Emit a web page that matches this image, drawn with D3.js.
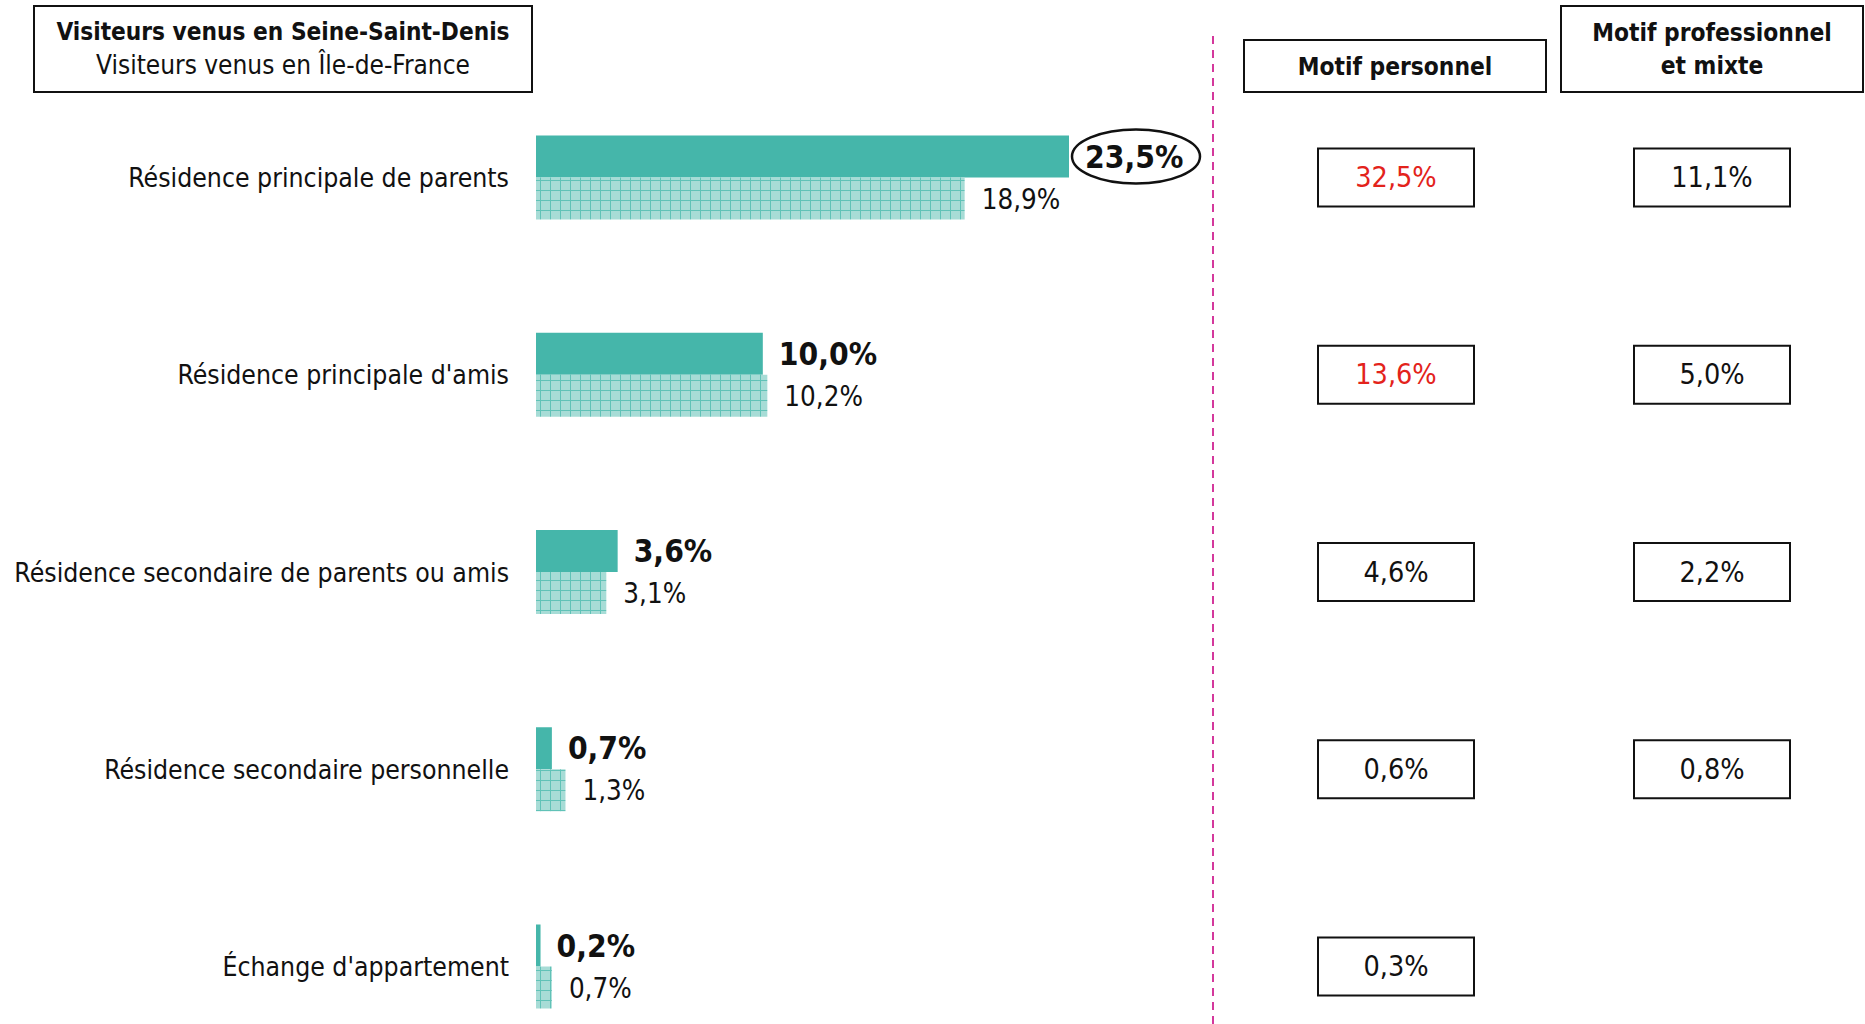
<!DOCTYPE html>
<html>
<head>
<meta charset="utf-8">
<script src="https://cdn.jsdelivr.net/npm/d3@7"></script>
<style>
    body { margin: 0; background: #fff; }
    svg text { font-family: "DejaVu Sans Condensed", "Liberation Sans Narrow", Roboto, sans-serif; fill: #111; }
</style>
</head>
<body>
<script>
// categories and values (percentages)
var categories = [
    "Résidence principale de parents",
    "Résidence principale d'amis",
    "Résidence secondaire de parents ou amis",
    "Résidence secondaire personnelle",
    "Échange d'appartement"
];
var seineSaintDenis = [23.5, 10.0, 3.6, 0.7, 0.2];
var ileDeFrance = [18.9, 10.2, 3.1, 1.3, 0.7];
var motifPersonnel = [32.5, 13.6, 4.6, 0.6, 0.3];
var motifPro = [11.1, 5.0, 2.2, 0.8, null];
var persoHighlight = [true, true, false, false, false];

var width = 1865, height = 1024;
var teal = "#45b6aa", tealLight = "#a7dcd6", tealGrid = "#60c2b7";
var red = "#e3231b", pink = "#d4389c";

var fr = d3.formatLocale({decimal: ",", thousands: " ", grouping: [3],
    currency: ["", " €"]});
var fmt = function(v) { return fr.format(".1f")(v) + "%"; };

var svg = d3.select("body")
    .append("svg")
    .attr("width", width)
    .attr("height", height);

// hatched pattern for Île-de-France bars
var defs = svg.append("defs");
var pat = defs.append("pattern")
    .attr("id", "grid")
    .attr("patternUnits", "userSpaceOnUse")
    .attr("width", 10)
    .attr("height", 10);
pat.append("rect").attr("width", 10).attr("height", 10).attr("fill", tealLight);
pat.append("path")
    .attr("d", "M0,0.5H10M0.5,0V10")
    .attr("stroke", tealGrid)
    .attr("stroke-width", 1);

var x = d3.scaleLinear().domain([0, 23.5]).range([536, 1069]);
var y = d3.scalePoint().domain(categories).range([177.5, 966.5]);
var barH = 42;

var colPerso = 1396, colPro = 1712;

// legend box
svg.append("rect")
    .attr("x", 34).attr("y", 6).attr("width", 498).attr("height", 86)
    .attr("fill", "none").attr("stroke", "#111").attr("stroke-width", 2);
svg.append("text")
    .attr("x", 283).attr("y", 32)
    .attr("text-anchor", "middle").attr("dominant-baseline", "central")
    .style("font-size", "24.2px").style("font-weight", "bold")
    .text("Visiteurs venus en Seine-Saint-Denis");
svg.append("text")
    .attr("x", 283).attr("y", 65)
    .attr("text-anchor", "middle").attr("dominant-baseline", "central")
    .style("font-size", "26px")
    .text("Visiteurs venus en Île-de-France");

// column headers
svg.append("rect")
    .attr("x", 1244).attr("y", 40).attr("width", 302).attr("height", 52)
    .attr("fill", "none").attr("stroke", "#111").attr("stroke-width", 2);
svg.append("text")
    .attr("x", 1395).attr("y", 66)
    .attr("text-anchor", "middle").attr("dominant-baseline", "central")
    .style("font-size", "24.3px").style("font-weight", "bold")
    .text("Motif personnel");
svg.append("rect")
    .attr("x", 1561).attr("y", 6).attr("width", 302).attr("height", 86)
    .attr("fill", "none").attr("stroke", "#111").attr("stroke-width", 2);
svg.append("text")
    .attr("x", 1712).attr("y", 32)
    .attr("text-anchor", "middle").attr("dominant-baseline", "central")
    .style("font-size", "24.3px").style("font-weight", "bold")
    .text("Motif professionnel");
svg.append("text")
    .attr("x", 1712).attr("y", 65)
    .attr("text-anchor", "middle").attr("dominant-baseline", "central")
    .style("font-size", "24.3px").style("font-weight", "bold")
    .text("et mixte");

// dashed separator
svg.append("line")
    .attr("x1", 1213).attr("x2", 1213).attr("y1", 36).attr("y2", height)
    .attr("stroke", pink).attr("stroke-width", 2)
    .attr("stroke-dasharray", "8,6");

// category labels
svg.selectAll(".cat")
    .data(categories)
    .enter().append("text")
    .attr("class", "cat")
    .attr("x", 509)
    .attr("y", function(d) { return y(d); })
    .attr("text-anchor", "end").attr("dominant-baseline", "central")
    .style("font-size", "26.4px")
    .text(function(d) { return d; });

// solid bars (Seine-Saint-Denis)
svg.selectAll(".ssd")
    .data(seineSaintDenis)
    .enter().append("rect")
    .attr("class", "ssd")
    .attr("x", x(0))
    .attr("y", function(d, i) { return y(categories[i]) - barH; })
    .attr("width", function(d) { return x(d) - x(0); })
    .attr("height", barH)
    .attr("fill", teal);

// hatched bars (Île-de-France)
svg.selectAll(".idf")
    .data(ileDeFrance)
    .enter().append("rect")
    .attr("class", "idf")
    .attr("x", x(0))
    .attr("y", function(d, i) { return y(categories[i]); })
    .attr("width", function(d) { return x(d) - x(0); })
    .attr("height", barH)
    .attr("fill", "url(#grid)");

// solid bar labels
svg.selectAll(".ssdLab")
    .data(seineSaintDenis)
    .enter().append("text")
    .attr("class", "ssdLab")
    .attr("x", function(d) { return x(d) + 16; })
    .attr("y", function(d, i) { return y(categories[i]) - barH / 2; })
    .attr("dominant-baseline", "central")
    .style("font-size", "31.5px").style("font-weight", "bold")
    .text(fmt);

// highlight ellipse round the first value
svg.append("ellipse")
    .attr("cx", x(seineSaintDenis[0]) + 67)
    .attr("cy", y(categories[0]) - barH / 2)
    .attr("rx", 64).attr("ry", 27)
    .attr("fill", "none").attr("stroke", "#111").attr("stroke-width", 2.5);

// hatched bar labels
svg.selectAll(".idfLab")
    .data(ileDeFrance)
    .enter().append("text")
    .attr("class", "idfLab")
    .attr("x", function(d) { return x(d) + 17; })
    .attr("y", function(d, i) { return y(categories[i]) + barH / 2; })
    .attr("dominant-baseline", "central")
    .style("font-size", "27.5px")
    .text(fmt);

// value boxes for the two columns
function valueBoxes(values, cx, cls, hl) {
    var g = svg.selectAll("." + cls)
        .data(values.map(function(v, i) { return {v: v, i: i}; })
            .filter(function(d) { return d.v !== null; }))
        .enter().append("g")
        .attr("class", cls)
        .attr("transform", function(d) {
            return "translate(" + cx + "," + y(categories[d.i]) + ")";
        });
    g.append("rect")
        .attr("x", -78).attr("y", -29).attr("width", 156).attr("height", 58)
        .attr("fill", "none").attr("stroke", "#111").attr("stroke-width", 2);
    g.append("text")
        .attr("text-anchor", "middle").attr("dominant-baseline", "central")
        .style("font-size", "28.5px")
        .style("fill", function(d) { return hl && hl[d.i] ? red : "#111"; })
        .text(function(d) { return fmt(d.v); });
}
valueBoxes(motifPersonnel, colPerso, "perso", persoHighlight);
valueBoxes(motifPro, colPro, "pro", null);
</script>
</body>
</html>
